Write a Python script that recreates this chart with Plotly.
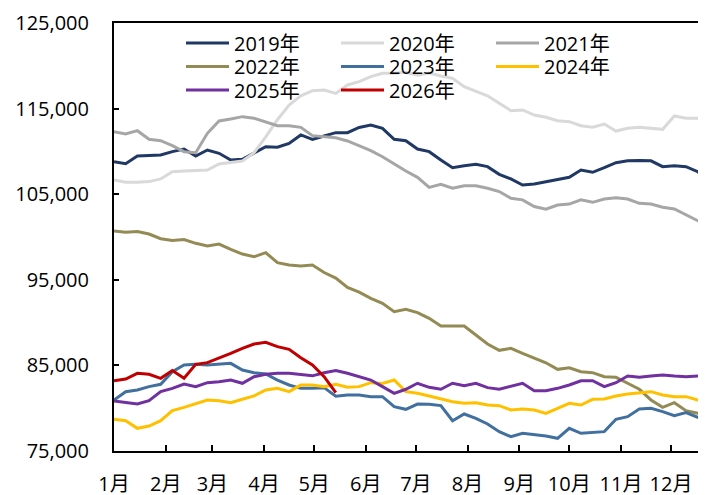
import plotly.graph_objects as go

# ---- data (weekly observations, week index 0 = first week of January) ----
month_labels = ["1月", "2月", "3月", "4月", "5月", "6月", "7月", "8月", "9月", "10月", "11月", "12月"]
month_start_day = [0, 31, 59, 90, 120, 151, 181, 212, 243, 273, 304, 334]

y2019 = [108800, 108560, 109460, 109500, 109580, 109970, 110280, 109460, 110160, 109780,
         109000, 109080, 109860, 110550, 110480, 110940, 111920, 111410, 111800, 112190,
         112190, 112800, 113080, 112690, 111410, 111250, 110280, 109970, 108990, 108100,
         108330, 108490, 108220, 107320, 106780, 106080, 106190, 106460, 106740, 106970,
         107830, 107560, 108100, 108680, 108900, 108950, 108900, 108220, 108330, 108220,
         107630, 106500]
y2020 = [106660, 106390, 106390, 106470, 106780, 107630, 107710, 107750, 107830, 108530,
         108680, 108880, 109850, 111700, 113700, 115400, 116500, 117090, 117170, 116780,
         117760, 118150, 118730, 119120, 119120, 119250, 118900, 119150, 118800, 118540,
         117560, 117050, 116500, 115620, 114760, 114840, 114250, 113980, 113590, 113470,
         113000, 112820, 113200, 112380, 112700, 112820, 112700, 112580, 114140, 113870,
         113870, 113300]
y2021 = [112310, 112030, 112420, 111410, 111250, 110670, 109970, 109850, 112110, 113550,
         113790, 114060, 113870, 113480, 113010, 113000, 112810, 111840, 111720, 111600,
         111220, 110670, 110090, 109380, 108530, 107710, 106970, 105800, 106150, 105690,
         105990, 105990, 105690, 105310, 104530, 104340, 103560, 103240, 103740, 103850,
         104340, 104050, 104440, 104590, 104440, 103930, 103850, 103480, 103270, 102570,
         101910, 101600]
y2022 = [100700, 100550, 100650, 100350, 99800, 99600, 99700, 99260, 98950, 99180,
         98560, 98010, 97700, 98170, 97000, 96730, 96600, 96730, 95850, 95200,
         94100, 93550, 92840, 92250, 91270, 91550, 91160, 90500, 89600, 89600,
         89600, 88550, 87500, 86760, 87000, 86410, 85830, 85310, 84540, 84730,
         84260, 84150, 83680, 83610, 82910, 82210, 80960, 80100, 80640, 79710,
         79400, 79250]
y2023 = [80960, 81930, 82130, 82520, 82790, 84260, 85050, 85130, 85050, 85160,
         85240, 84460, 84150, 84000, 83290, 82710, 82320, 82320, 82400, 81400,
         81540, 81540, 81350, 81350, 80180, 79870, 80490, 80450, 80300, 78540,
         79320, 78820, 78160, 77260, 76670, 77070, 76950, 76750, 76480, 77650,
         77070, 77140, 77260, 78700, 79010, 79910, 79990, 79600, 79130, 79480,
         78940, 78500]
y2024 = [78700, 78540, 77650, 77920, 78540, 79710, 80100, 80570, 80960, 80880,
         80640, 81040, 81430, 82130, 82320, 81930, 82700, 82710, 82520, 82790,
         82440, 82520, 82980, 82900, 83290, 81930, 81740, 81430, 81080, 80760,
         80570, 80640, 80370, 80300, 79790, 79910, 79790, 79400, 79990, 80570,
         80370, 81040, 81080, 81430, 81660, 81820, 81930, 81540, 81350, 81350,
         80960, 80960]
y2025 = [80840, 80690, 80490, 80880, 81930, 82320, 82830, 82520, 82980, 83100,
         83290, 82910, 83680, 83960, 84080, 84080, 83920, 83780, 84150, 84390,
         84080, 83680, 83290, 82520, 81740, 82210, 82910, 82440, 82210, 82910,
         82630, 82910, 82400, 82210, 82600, 82910, 82050, 82050, 82320, 82710,
         83210, 83210, 82520, 82980, 83760, 83610, 83760, 83880, 83760, 83680,
         83760, 83600]
y2026 = [83210, 83410, 84080, 83960, 83490, 84390, 83490, 85130, 85320, 85830,
         86410, 87000, 87500, 87700, 87190, 86880, 85900, 85050, 83680, 81820]

series = [
    ("2019年", y2019, "#203864", "legend"),
    ("2020年", y2020, "#D9D9D9", "legend"),
    ("2021年", y2021, "#A6A6A6", "legend"),
    ("2022年", y2022, "#948A54", "legend2"),
    ("2023年", y2023, "#41709E", "legend2"),
    ("2024年", y2024, "#FFC000", "legend2"),
    ("2025年", y2025, "#7030A0", "legend3"),
    ("2026年", y2026, "#C00000", "legend3"),
]

FONT = "Open Sans, Noto Sans CJK SC, sans-serif"

fig = go.Figure()
for name, vals, color, lg in series:
    days = [7 * i for i in range(len(vals))]
    fig.add_trace(go.Scatter(x=days, y=vals, name=name, mode="lines",
                             line=dict(color=color, width=3), legend=lg))

# The page body adds an 8px offset; figure coordinates = page coordinates - 8.
# Plot area (page px): x 114..714 (visible to 706), y 23..451
PW, PH = 600.0, 428.0
PX_PER_DAY = 557.0 / 334.0
x_end = PW / PX_PER_DAY

leg_common = dict(orientation="h", xref="paper", yref="paper",
                  xanchor="left", yanchor="middle", bgcolor="rgba(0,0,0,0)",
                  borderwidth=0, itemwidth=43, entrywidth=97, entrywidthmode="pixels",
                  font=dict(family=FONT, size=20, color="#000000"), traceorder="normal")
lx = (181 - 114) / PW

fig.update_layout(
    width=706, height=495,
    margin=dict(l=106, r=0, t=15, b=52, autoexpand=False),
    paper_bgcolor="white", plot_bgcolor="white",
    font=dict(family=FONT, size=20, color="#000000"),
    xaxis=dict(range=[0, x_end], tickvals=month_start_day, ticktext=month_labels,
               showgrid=False, zeroline=False, showline=True, linecolor="black",
               linewidth=2, mirror=True, ticks="inside", ticklen=6, tickwidth=2,
               tickcolor="black", ticklabelstandoff=14, automargin=False,
               tickfont=dict(family=FONT, size=20, color="#000000")),
    yaxis=dict(range=[75000, 125000], tick0=75000, dtick=10000, tickformat=",d",
               showgrid=False, zeroline=False, showline=True, linecolor="black",
               linewidth=2, ticks="inside", ticklen=5, tickwidth=1.5, tickcolor="black",
               ticklabelstandoff=19, automargin=False,
               tickfont=dict(family=FONT, size=20, color="#000000")),
    legend=dict(x=lx, y=1 - (43 - 23) / PH, **leg_common),
    legend2=dict(x=lx, y=1 - (66.5 - 23) / PH, **leg_common),
    legend3=dict(x=lx, y=1 - (90 - 23) / PH, **leg_common),
    showlegend=True,
)

fig.write_html("out.html")
